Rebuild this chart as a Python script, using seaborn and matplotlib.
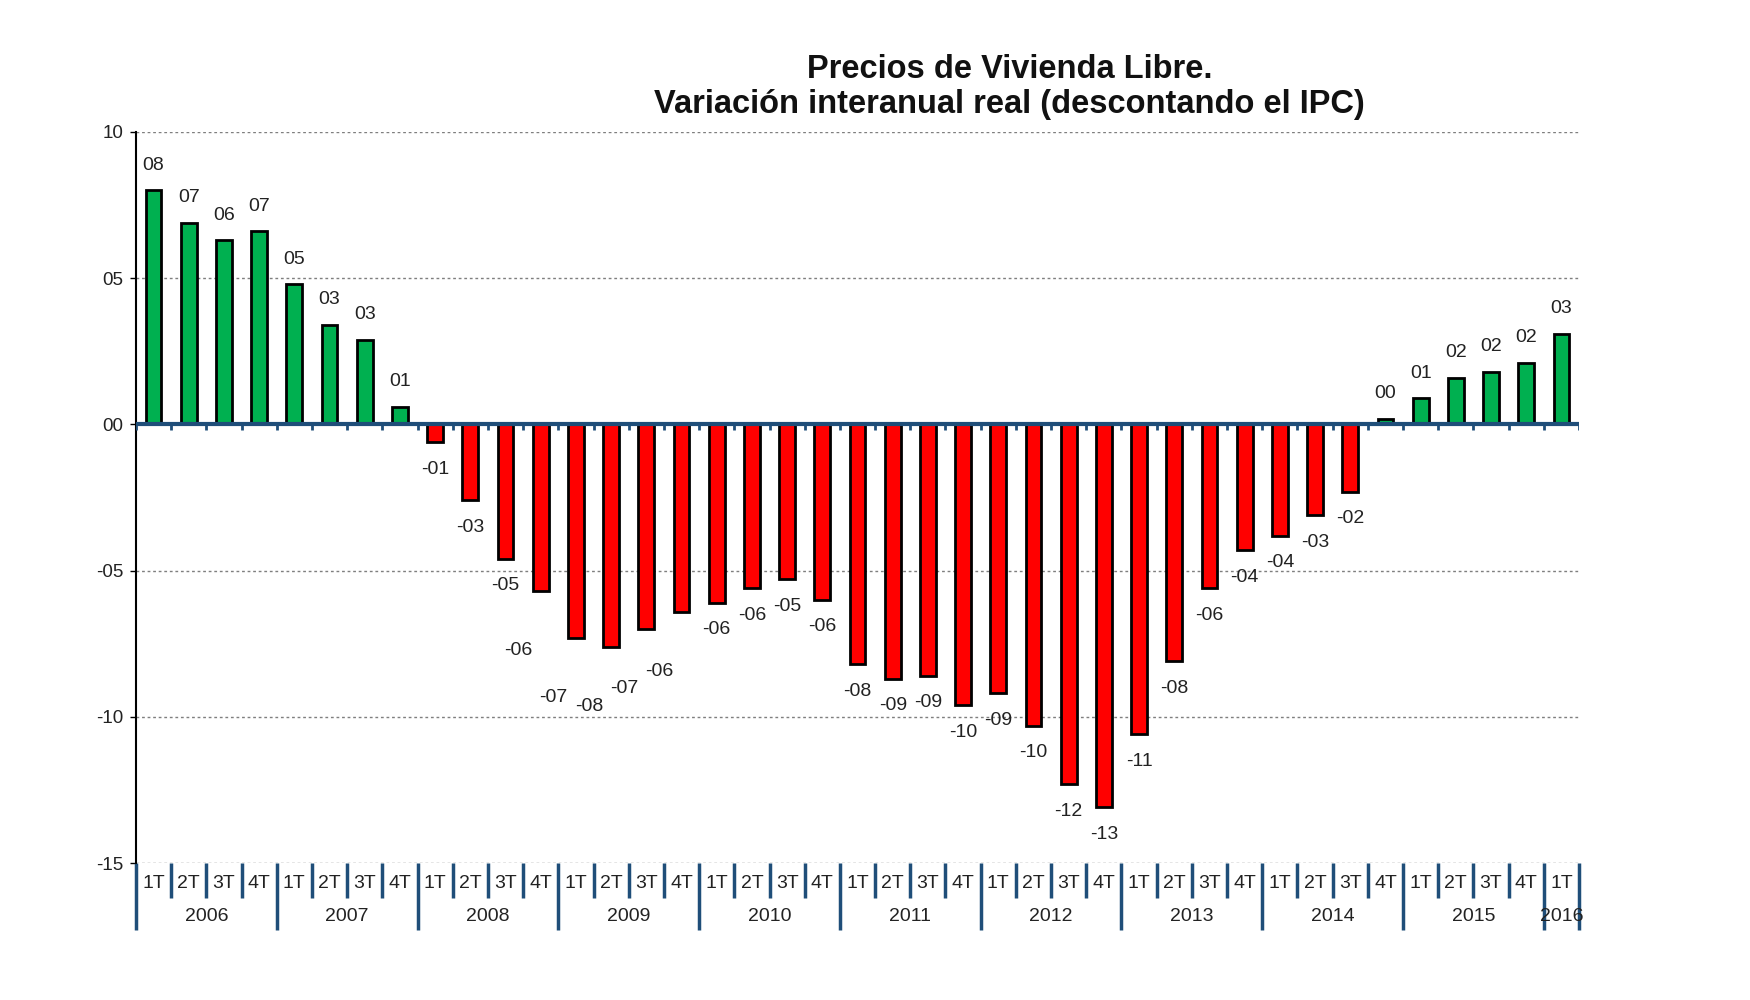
import numpy as np
import pandas as pd
import matplotlib
matplotlib.use("Agg")
import matplotlib.pyplot as plt
import seaborn as sns
from matplotlib.transforms import blended_transform_factory

# ---------------- data ----------------
years = ["2006", "2007", "2008", "2009", "2010", "2011",
         "2012", "2013", "2014", "2015", "2016"]
quarters = ["1T", "2T", "3T", "4T"] * 10 + ["1T"]
values = [8.0, 6.9, 6.3, 6.6,
          4.8, 3.4, 2.9, 0.6,
          -0.6, -2.6, -4.6, -5.7,
          -7.3, -7.6, -7.0, -6.4,
          -6.1, -5.6, -5.3, -6.0,
          -8.2, -8.7, -8.6, -9.6,
          -9.2, -10.3, -12.3, -13.1,
          -10.6, -8.1, -5.6, -4.3,
          -3.8, -3.1, -2.3, 0.2,
          0.9, 1.6, 1.8, 2.1,
          3.1]
title_lines = ["Precios de Vivienda Libre.",
               "Variación interanual real (descontando el IPC)"]

# manual label nudges (in points) for labels moved in the original chart
label_nudge = {11: (-16, -23.5), 12: (-16, -23.5), 13: (-16, -23.5),
               14: (-16, -23.5), 15: (-16, -23.5)}

# ---------------- build table ----------------
year_of = []
for y in years[:-1]:
    year_of += [y] * 4
year_of += [years[-1]]
periods = [f"{y}-{q}" for y, q in zip(year_of, quarters)]
df = pd.DataFrame({"periodo": periods, "valor": values})
df["signo"] = np.where(df["valor"] >= 0, "pos", "neg")

# ---------------- style ----------------
sns.set_style("white")
plt.rcParams["font.family"] = ["Liberation Sans", "DejaVu Sans"]

fig = plt.figure(figsize=(17.5, 10), dpi=100)
ax = fig.add_axes([0.0777, 0.137, 0.8246, 0.731])

sns.barplot(data=df, x="periodo", y="valor", hue="signo",
            palette={"pos": "#00B050", "neg": "#FF0000"}, saturation=1,
            dodge=False, width=0.45, edgecolor="black", linewidth=2,
            legend=False, ax=ax, zorder=3)

n = len(values)
ax.set_xlim(-0.5, n - 0.5)
ax.set_ylim(-15, 10)

# y axis
yt = [-15, -10, -5, 0, 5, 10]
ax.set_yticks(yt)
ax.set_yticklabels([f"{v:02d}" if v >= 0 else f"{v:03d}" for v in yt])
ax.tick_params(axis="y", length=4, width=1, color="black",
               labelsize=13.5, labelcolor="#222222", pad=5, left=True)
ax.yaxis.grid(True, linestyle=(0, (2, 2)), color="#7f7f7f", lw=1)
ax.set_axisbelow(True)
ax.tick_params(axis="x", bottom=False, labelbottom=False)
ax.set_xlabel("")
ax.set_ylabel("")
for s in ["top", "right", "bottom"]:
    ax.spines[s].set_visible(False)
ax.spines["left"].set_color("black")
ax.spines["left"].set_linewidth(1.5)

# zero line with small boundary ticks
blue = "#1F4E79"
ax.axhline(0, color=blue, lw=3, zorder=5)
bounds = np.arange(n + 1) - 0.5
ax.vlines(bounds, -0.18, 0, color=blue, lw=2, zorder=5)

# data labels
for p in ax.patches:
    h = p.get_height()
    if p.get_width() == 0 or np.isnan(h):
        continue
    xc = p.get_x() + p.get_width() / 2
    idx = int(round(xc))
    r = int(round(h))
    txt = f"{r:02d}" if r >= 0 else f"{r:03d}"
    dy = 18 if h >= 0 else -19.5
    dx = 0
    if idx in label_nudge:
        dx, extra = label_nudge[idx]
        dy += extra
    ax.annotate(txt, xy=(xc, h), xytext=(dx, dy), textcoords="offset points",
                ha="center", va="center", fontsize=14, color="#222222",
                zorder=6)

# category axis (quarters / years)
trans = blended_transform_factory(ax.transData, ax.transAxes)
for i, q in enumerate(quarters):
    ax.text(i, -0.0287, q, transform=trans, ha="center", va="center",
            fontsize=14, color="#222222", clip_on=False)
year_start = 0
for y in years:
    cnt = year_of.count(y)
    ax.text(year_start + (cnt - 1) / 2, -0.0732, y, transform=trans,
            ha="center", va="center", fontsize=14, color="#222222",
            clip_on=False)
    year_start += cnt
year_bounds = {0}
acc = 0
for y in years:
    acc += year_of.count(y)
    year_bounds.add(acc)
for k, b in enumerate(bounds):
    y1 = -0.0917 if k in year_bounds else -0.0479
    ax.plot([b, b], [0, y1], transform=trans, color=blue, lw=2.5,
            clip_on=False, solid_capstyle="butt")

# title
fig.text(0.577, 0.931, title_lines[0], ha="center", va="center",
         fontsize=23.5, fontweight="bold", color="#111111")
fig.text(0.577, 0.895, title_lines[1], ha="center", va="center",
         fontsize=23.5, fontweight="bold", color="#111111")

fig.savefig("out.png", dpi=100, facecolor="white")
